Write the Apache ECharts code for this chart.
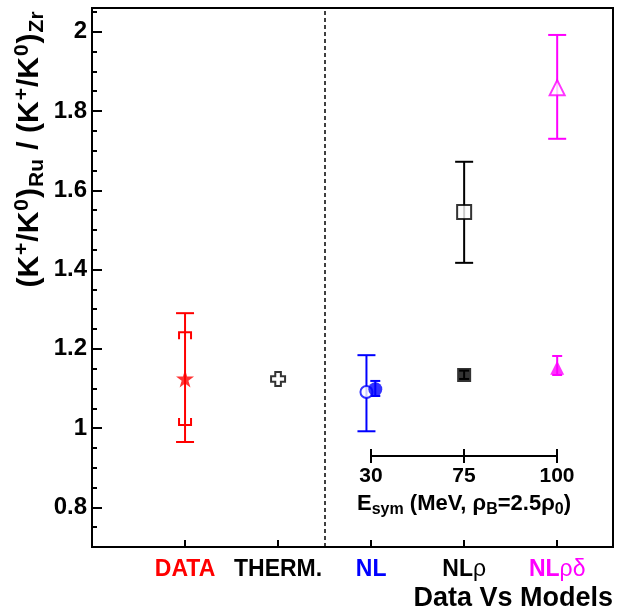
<!DOCTYPE html>
<html><head><meta charset="utf-8">
<script src="https://cdn.jsdelivr.net/npm/echarts@6/dist/echarts.min.js"></script>
<style>html,body{margin:0;padding:0;background:#fff}#c{width:621px;height:608px}</style>
</head><body><div id="c"></div>
<script>
// ---------------- data ----------------
const categories = ['DATA', 'THERM.', 'NL', 'NLρ', 'NLρδ'];
const categoryColors = ['#ff0000', '#000000', '#0000ff', '#000000', '#ff00ff'];
const yTickValues = [0.8, 1, 1.2, 1.4, 1.6, 1.8, 2];
const esymTicks = ['30', '75', '100'];

// measured double ratio (DATA) with total error and systematic brackets
const dataValue = 1.125;
const dataErrLow = 0.965;
const dataErrHigh = 1.29;
const dataSysLow = 1.008;
const dataSysHigh = 1.242;

// thermal model
const thermValue = 1.124;

// transport models: NL, NLρ, NLρδ
const modelCats = ['NL', 'NLρ', 'NLρδ'];
const openValue = [1.091, 1.545, 1.859];
const openLow = [0.992, 1.417, 1.730];
const openHigh = [1.184, 1.672, 1.992];
const filledValue = [1.098, 1.134, 1.152];
const filledLow = [1.081, 1.124, 1.134];
const filledHigh = [1.119, 1.145, 1.182];

// ---------------- styling / layout ----------------
const FONT = 'Liberation Sans';
const RED = '#ff0000', BLUE = '#0000ff', MAG = '#ff00ff', BLK = '#000000';
const modelColors = [BLUE, BLK, MAG];
const openSymbols = ['circle', 'rect', 'triangle'];
const openSizes = [12, 14, 15];
const filledSizes = [14, 14, 14];
const STAR = 'path://M50,0 L61,35 L98,35 L68,57 L79,91 L50,70 L21,91 L32,57 L2,35 L39,35 Z';
const CROSS = 'path://M3,0 H7 V3 H10 V7 H7 V10 H3 V7 H0 V3 H3 Z';

function catX(name) { return categories.indexOf(name) + 1; }
function xShift(name, kind) {
  if (name !== 'NL') return 0;
  return kind === 'open' ? -0.05 : 0.045;
}

function errorBars(items, capHalf, z) {
  return {
    type: 'custom', xAxisIndex: 0, yAxisIndex: 0, z: z || 2, silent: true,
    encode: { x: 0, y: [1, 2] },
    data: items.map(it => [it.x, it.lo, it.hi]),
    renderItem: function (params, api) {
      const it = items[params.dataIndex];
      const a = api.coord([it.x, it.lo]);
      const b = api.coord([it.x, it.hi]);
      const st = { stroke: it.color, lineWidth: 2 };
      return {
        type: 'group', children: [
          { type: 'line', shape: { x1: a[0], y1: a[1], x2: b[0], y2: b[1] }, style: st },
          { type: 'line', shape: { x1: a[0] - capHalf, y1: a[1], x2: a[0] + capHalf, y2: a[1] }, style: st },
          { type: 'line', shape: { x1: b[0] - capHalf, y1: b[1], x2: b[0] + capHalf, y2: b[1] }, style: st }
        ]
      };
    }
  };
}

const mainBars = [{ x: catX('DATA'), lo: dataErrLow, hi: dataErrHigh, color: RED }];
modelCats.forEach((c, i) => {
  mainBars.push({ x: catX(c) + xShift(c, 'open'), lo: openLow[i], hi: openHigh[i], color: modelColors[i] });
});
const smallBars = modelCats.map((c, i) => ({ x: catX(c) + xShift(c, 'filled'), lo: filledLow[i], hi: filledHigh[i], color: modelColors[i] }));

const sysSeries = {
  type: 'custom', xAxisIndex: 0, yAxisIndex: 0, z: 3, silent: true,
  encode: { x: 0, y: [1, 2] },
  data: [[catX('DATA'), dataSysLow, dataSysHigh]],
  renderItem: function (params, api) {
    const a = api.coord([api.value(0), api.value(1)]);
    const b = api.coord([api.value(0), api.value(2)]);
    const w = 6, h = 7;
    const st = { stroke: RED, lineWidth: 2, fill: null };
    return {
      type: 'group', children: [
        { type: 'polyline', shape: { points: [[b[0] - w, b[1] + h], [b[0] - w, b[1]], [b[0] + w, b[1]], [b[0] + w, b[1] + h]] }, style: st },
        { type: 'polyline', shape: { points: [[a[0] - w, a[1] - h], [a[0] - w, a[1]], [a[0] + w, a[1]], [a[0] + w, a[1] - h]] }, style: st }
      ]
    };
  }
};

const openPoints = modelCats.map((c, i) => ({
  value: [catX(c) + xShift(c, 'open'), openValue[i]],
  symbol: openSymbols[i], symbolSize: openSizes[i],
  itemStyle: { color: '#ffffff', borderColor: modelColors[i], borderWidth: 2 }
}));
const filledPoints = modelCats.map((c, i) => ({
  value: [catX(c) + xShift(c, 'filled'), filledValue[i]],
  symbol: openSymbols[i], symbolSize: filledSizes[i],
  itemStyle: { color: modelColors[i], borderWidth: 0 }
}));

const labelRich = {};
categories.forEach((c, i) => {
  labelRich['c' + i] = { color: categoryColors[i], fontSize: 23, fontWeight: 'bold', fontFamily: FONT };
  labelRich['g' + i] = { color: categoryColors[i], fontSize: 23, fontWeight: 'normal', fontFamily: FONT };
});
function catLabel(v) {
  const i = Math.round(v) - 1;
  const name = categories[i];
  if (!name) return '';
  const m = name.match(/^([A-Za-z.]+)(.*)$/);
  return '{c' + i + '|' + m[1] + '}' + (m[2] ? '{g' + i + '|' + m[2] + '}' : '');
}

const chart = echarts.init(document.getElementById('c'));
chart.setOption({
  animation: false,
  backgroundColor: '#ffffff',
  title: {
    text: 'Data Vs Models', right: 8, top: 585, padding: 0,
    textStyle: { fontSize: 27, fontWeight: 'bold', fontFamily: FONT, color: BLK }
  },
  grid: [
    { left: 92, top: 8, width: 521, height: 539, show: true, borderColor: BLK, borderWidth: 2, backgroundColor: 'transparent' },
    { left: 371, top: 400, width: 186, height: 56 }
  ],
  xAxis: [
    {
      gridIndex: 0, type: 'value', min: 0, max: 5.6, position: 'bottom',
      axisLine: { lineStyle: { color: BLK, width: 2 } },
      axisTick: { inside: true, length: 7, customValues: [1, 2, 3, 4, 5], lineStyle: { color: BLK, width: 2 } },
      axisLabel: { customValues: [1, 2, 3, 4, 5], margin: 11, formatter: catLabel, rich: labelRich },
      splitLine: { show: false }
    },
    {
      gridIndex: 1, type: 'category', boundaryGap: false, data: esymTicks, position: 'bottom',
      axisLine: { lineStyle: { color: BLK, width: 2 } },
      axisTick: { inside: false, length: 7, lineStyle: { color: BLK, width: 2 } },
      axisLabel: { margin: 10, fontSize: 21, fontWeight: 'bold', color: BLK, fontFamily: FONT },
      name: '{m|E}{s|sym}{m| (MeV, ρ}{s|B}{m|=2.5ρ}{s|0}{m|)}',
      nameLocation: 'middle', nameGap: 33,
      nameTextStyle: {
        rich: {
          m: { fontSize: 22, fontWeight: 'bold', fontFamily: FONT, color: BLK },
          s: { fontSize: 16, fontWeight: 'bold', fontFamily: FONT, color: BLK, padding: [13, 0, 0, 0] }
        }
      }
    },
    {
      gridIndex: 1, type: 'category', boundaryGap: false, data: esymTicks, position: 'bottom',
      axisLine: { show: false },
      axisTick: { inside: true, length: 7, lineStyle: { color: BLK, width: 2 } },
      axisLabel: { show: false }
    }
  ],
  yAxis: [
    {
      gridIndex: 0, type: 'value', min: 0.7, max: 2.06, position: 'left',
      axisLine: { show: true, lineStyle: { color: BLK, width: 2 } },
      axisTick: { inside: true, length: 10, customValues: yTickValues, lineStyle: { color: BLK, width: 2 } },
      axisLabel: {
        customValues: yTickValues, margin: 5, fontSize: 24, fontWeight: 'bold', color: BLK, fontFamily: FONT,
        formatter: v => String(v)
      },
      splitLine: { show: false }
    },
    {
      gridIndex: 0, type: 'value', min: 0.7, max: 2.06, interval: 0.05, position: 'left',
      axisLine: { show: false },
      axisTick: { inside: true, length: 5, lineStyle: { color: BLK, width: 2 } },
      axisLabel: { show: false },
      splitLine: { show: false }
    },
    { gridIndex: 1, type: 'value', show: false, min: 0, max: 1 }
  ],
  graphic: [{
    type: 'text', x: 30, y: 149, rotation: Math.PI / 2,
    style: {
      text: '{m|(K}{p|+}{m|/K}{p|0}{m|)}{s|Ru}{m| / (K}{p|+}{m|/K}{p|0}{m|)}{s|Zr}',
      align: 'center', verticalAlign: 'middle', fill: BLK,
      rich: {
        m: { fontSize: 30, fontWeight: 'bold', fontFamily: FONT, fill: BLK },
        p: { fontSize: 21, fontWeight: 'bold', fontFamily: FONT, fill: BLK, padding: [0, 1, 15, 1] },
        s: { fontSize: 21, fontWeight: 'bold', fontFamily: FONT, fill: BLK, padding: [15, 1, 0, 1] }
      }
    }
  }],
  series: [
    Object.assign(errorBars(mainBars, 9, 2), {
      markLine: {
        silent: true, symbol: ['none', 'none'], label: { show: false },
        lineStyle: { type: [4, 3], color: BLK, width: 1.5 },
        data: [{ xAxis: 2.5 }]
      }
    }),
    errorBars(smallBars, 5, 2),
    sysSeries,
    {
      type: 'scatter', xAxisIndex: 0, yAxisIndex: 0, z: 5, silent: true,
      data: [{ value: [catX('DATA'), dataValue], symbol: STAR, symbolSize: 18, itemStyle: { color: RED } }]
    },
    {
      type: 'scatter', xAxisIndex: 0, yAxisIndex: 0, z: 5, silent: true,
      data: [{ value: [catX('THERM.'), thermValue], symbol: CROSS, symbolSize: 14, itemStyle: { color: '#ffffff', borderColor: BLK, borderWidth: 2 } }]
    },
    { type: 'scatter', xAxisIndex: 0, yAxisIndex: 0, z: 5, silent: true, data: openPoints },
    { type: 'scatter', xAxisIndex: 0, yAxisIndex: 0, z: 6, silent: true, data: filledPoints }
  ]
});
</script></body></html>
